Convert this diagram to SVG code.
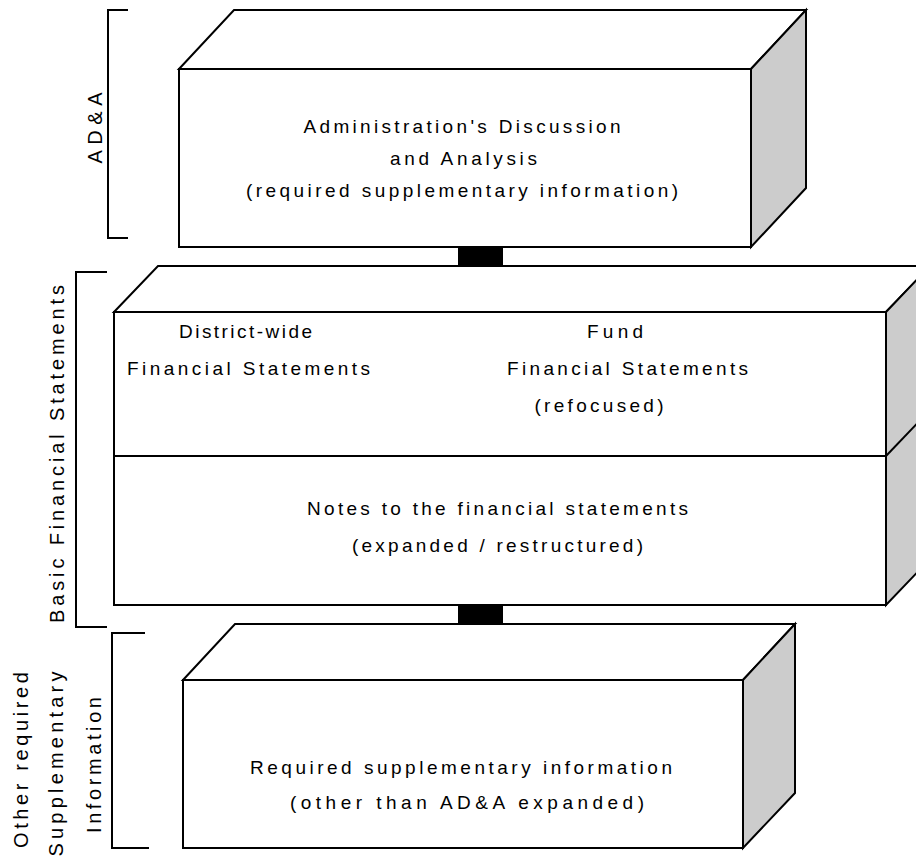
<svg xmlns="http://www.w3.org/2000/svg" width="916" height="857" viewBox="0 0 916 857">
<style>
.face{fill:#ffffff;stroke:#000;stroke-width:2;stroke-linejoin:miter}
.side{fill:#cccccc;stroke:#000;stroke-width:2}
.br{fill:none;stroke:#000;stroke-width:2}
.t{font-family:"Liberation Sans",Arial,sans-serif;font-size:19px;fill:#000;text-anchor:middle}
.r{font-size:20px}
.conn{fill:#000}
</style>
<rect width="916" height="857" fill="#fff"/>
<g id="connectors">
<rect class="conn" x="458" y="247" width="45" height="19"/>
<rect class="conn" x="458" y="605" width="45" height="19"/>
</g>
<g id="brackets">
<g id="bracket-ada">
<polyline class="br" points="128,10 108,10 108,238 128,238"/>
<text class="t r" transform="translate(102,128) rotate(-90)" textLength="71" lengthAdjust="spacing">AD&amp;A</text>
</g>
<g id="bracket-basic">
<polyline class="br" points="107,272 76,272 76,627 107,627"/>
<text class="t r" transform="translate(64,454) rotate(-90)" textLength="338" lengthAdjust="spacing">Basic Financial Statements</text>
</g>
<g id="bracket-other">
<polyline class="br" points="145,633 112,633 112,848 149,848"/>
<text class="t r" transform="translate(28,760) rotate(-90)" textLength="176" lengthAdjust="spacing">Other required</text>
<text class="t r" transform="translate(63,764) rotate(-90)" textLength="185" lengthAdjust="spacing">Supplementary</text>
<text class="t r" transform="translate(101,765) rotate(-90)" textLength="136" lengthAdjust="spacing">Information</text>
</g>
</g>
<g id="node-ada">
<polygon class="face" points="179,69 234,10 806,10 751,69"/>
<polygon class="side" points="751,69 806,10 806,188 751,247"/>
<rect class="face" x="179" y="69" width="572" height="178"/>
<text class="t" x="462" y="133" textLength="317" lengthAdjust="spacing">Administration's Discussion</text>
<text class="t" x="463.5" y="165" textLength="147" lengthAdjust="spacing">and Analysis</text>
<text class="t" x="462" y="197" textLength="432" lengthAdjust="spacing">(required supplementary information)</text>
</g>
<g id="node-basic">
<polygon class="face" points="114,312 158,266 930,266 886,312"/>
<polygon class="side" points="886,312 930,266 930,559 886,605"/>
<line class="br" x1="886" y1="456" x2="930" y2="410"/>
<rect class="face" x="114" y="312" width="772" height="144"/>
<rect class="face" x="114" y="456" width="772" height="149"/>
<text class="t" x="245.5" y="338" textLength="133" lengthAdjust="spacing">District-wide</text>
<text class="t" x="248.5" y="375" textLength="243" lengthAdjust="spacing">Financial Statements</text>
<text class="t" x="615" y="338" textLength="56" lengthAdjust="spacing">Fund</text>
<text class="t" x="627.5" y="375" textLength="241" lengthAdjust="spacing">Financial Statements</text>
<text class="t" x="599" y="412" textLength="129" lengthAdjust="spacing">(refocused)</text>
<text class="t" x="497.5" y="515" textLength="381" lengthAdjust="spacing">Notes to the financial statements</text>
<text class="t" x="497.5" y="552" textLength="291" lengthAdjust="spacing">(expanded / restructured)</text>
</g>
<g id="node-rsi">
<polygon class="face" points="183,680 235,624 795,624 743,680"/>
<polygon class="side" points="743,680 795,624 795,793 743,848"/>
<rect class="face" x="183" y="680" width="560" height="168"/>
<text class="t" x="461" y="774" textLength="422" lengthAdjust="spacing">Required supplementary information</text>
<text class="t" x="467" y="809" textLength="354" lengthAdjust="spacing">(other than AD&amp;A expanded)</text>
</g>
</svg>
